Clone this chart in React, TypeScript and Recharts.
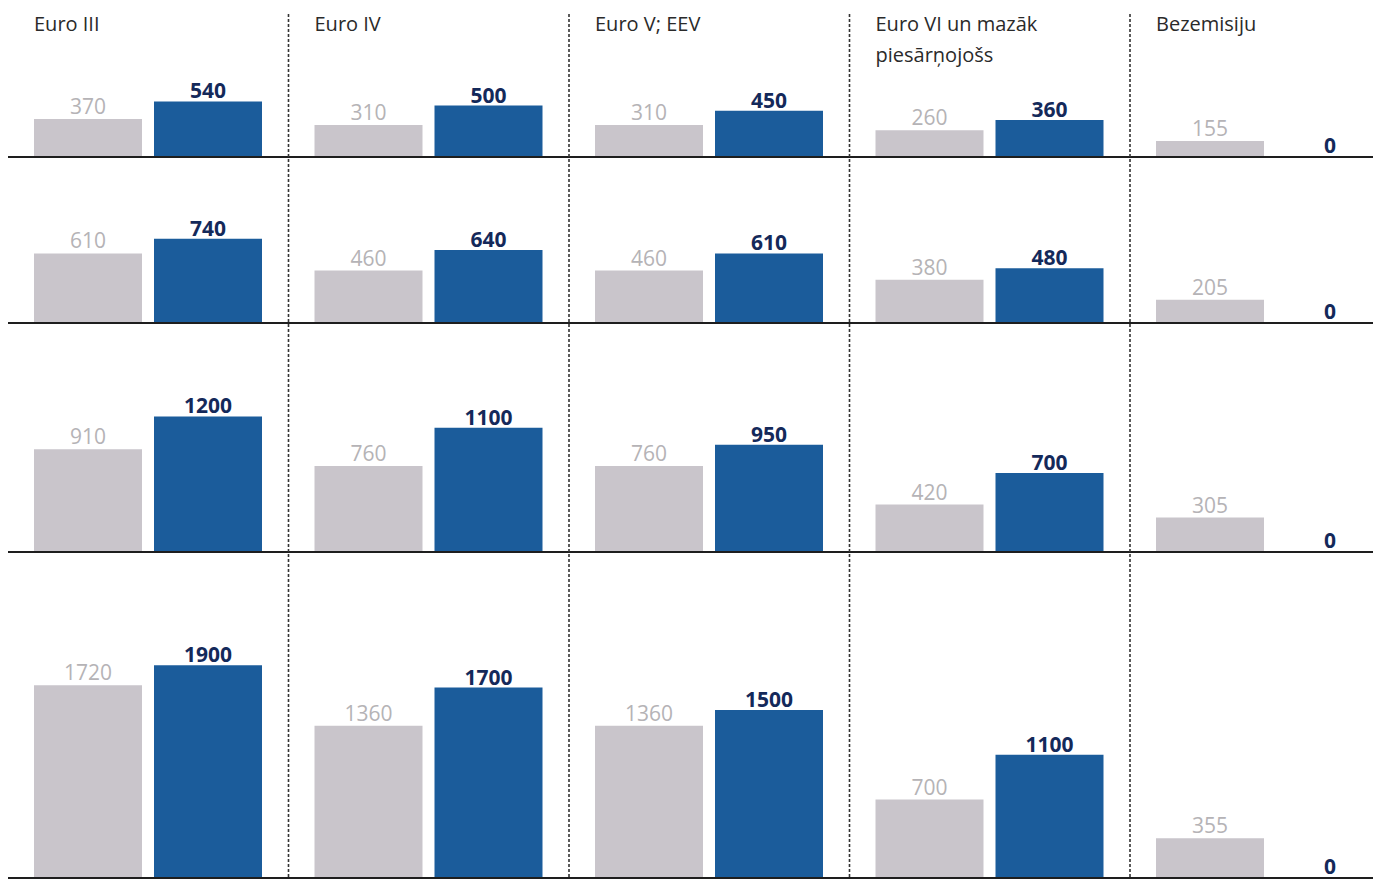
import React from 'react';
import { BarChart, Bar, XAxis, YAxis, LabelList, ReferenceLine } from 'recharts';

const categories = ['Euro III', 'Euro IV', 'Euro V; EEV', 'Euro VI un mazāk piesārņojošs', 'Bezemisiju'];
const headerLines = [['Euro III'], ['Euro IV'], ['Euro V; EEV'], ['Euro VI un mazāk', 'piesārņojošs'], ['Bezemisiju']];

const row1Gray = [370, 310, 310, 260, 155];
const row1Blue = [540, 500, 450, 360, 0];
const row2Gray = [610, 460, 460, 380, 205];
const row2Blue = [740, 640, 610, 480, 0];
const row3Gray = [910, 760, 760, 420, 305];
const row3Blue = [1200, 1100, 950, 700, 0];
const row4Gray = [1720, 1360, 1360, 700, 355];
const row4Blue = [1900, 1700, 1500, 1100, 0];

const rowsGray = [row1Gray, row2Gray, row3Gray, row4Gray];
const rowsBlue = [row1Blue, row2Blue, row3Blue, row4Blue];

// layout
const baselines = [157, 323, 552, 878];
const rowTops = [0, 160, 326, 555];
const pxPerUnit = [0.103, 0.114, 0.113, 0.112];
const CHART_LEFT = 8;
const BAND = 280.5;
const CHART_W = BAND * 5;

const GRAY = '#c9c5cb';
const BLUE = '#1b5c9b';
const GRAY_TXT = '#b5b3b6';
const NAVY_TXT = '#14295a';
const FONT = '"Open Sans", sans-serif';

function Row({ idx }: { idx: number }) {
  const data = categories.map((c, i) => ({ cat: c, gray: rowsGray[idx][i], blue: rowsBlue[idx][i] }));
  const h = baselines[idx] - rowTops[idx];
  const domainMax = h / pxPerUnit[idx];
  return (
    <div style={{ position: 'absolute', left: CHART_LEFT, top: rowTops[idx] }}>
      <BarChart
        width={CHART_W}
        height={h + 2}
        data={data}
        margin={{ top: 0, right: 0, bottom: 2, left: 0 }}
        barSize={108}
        barGap={12}
      >
        <XAxis dataKey="cat" hide />
        <YAxis hide domain={[0, domainMax]} allowDataOverflow />
        <Bar dataKey="gray" fill={GRAY} isAnimationActive={false}>
          <LabelList
            dataKey="gray"
            position="top"
            offset={5}
            fill={GRAY_TXT}
            fontSize={21}
            fontFamily={FONT}
          />
        </Bar>
        <Bar dataKey="blue" fill={BLUE} minPointSize={1} isAnimationActive={false}>
          <LabelList
            dataKey="blue"
            position="top"
            offset={3}
            fill={NAVY_TXT}
            fontSize={21}
            fontWeight={700}
            fontFamily={FONT}
          />
        </Bar>
        <ReferenceLine y={0} stroke="#1e1e1e" strokeWidth={2} />
      </BarChart>
    </div>
  );
}

export default function App() {
  return (
    <div
      style={{
        position: 'absolute',
        left: 0,
        top: 0,
        width: 1373,
        height: 879,
        overflow: 'hidden',
        background: '#fff',
        fontFamily: FONT,
      }}
    >
      {[0, 1, 2, 3].map((i) => (
        <Row key={i} idx={i} />
      ))}
      <svg
        width={1373}
        height={879}
        style={{ position: 'absolute', left: 0, top: 0, pointerEvents: 'none' }}
      >
        {[1, 2, 3, 4].map((i) => (
          <line
            key={i}
            x1={CHART_LEFT + BAND * i}
            x2={CHART_LEFT + BAND * i}
            y1={14}
            y2={879}
            stroke="#333"
            strokeWidth={1.6}
            strokeDasharray="3 2"
          />
        ))}
      </svg>
      {headerLines.map((lines, i) => (
        <div
          key={i}
          style={{
            position: 'absolute',
            left: CHART_LEFT + BAND * i + 26,
            top: 8,
            fontSize: 20,
            lineHeight: '31px',
            color: '#2a2a2a',
            whiteSpace: 'nowrap',
          }}
        >
          {lines.map((l, j) => (
            <div key={j}>{l}</div>
          ))}
        </div>
      ))}
    </div>
  );
}
